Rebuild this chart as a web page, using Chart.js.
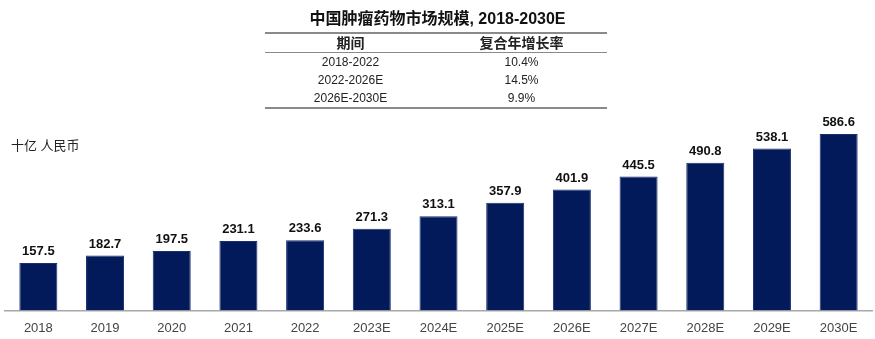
<!DOCTYPE html>
<html>
<head>
<meta charset="utf-8">
<script src="https://cdn.jsdelivr.net/npm/chart.js@4"></script>
<style>
  html, body { margin: 0; background: #fff; overflow: hidden; font-family: "Liberation Sans", "Noto Sans CJK SC", sans-serif; }
  #wrap { position: relative; width: 875px; height: 339px; overflow: hidden; }
  #title { position: absolute; left: 0; width: 875px; top: 5px; text-align: center; font-weight: bold; font-size: 16px; color: #111; }
  #cagr { position: absolute; left: 265px; top: 32px; width: 342px; border-collapse: collapse; font-size: 12px; color: #222; }
  #cagr th, #cagr td { width: 50%; text-align: center; padding: 0; line-height: 14px; }
  #cagr th { font-size: 14px; }
  #cagr thead tr { border-top: 2px solid #8a8a8a; border-bottom: 1px solid #8a8a8a; height: 19px; }
  #cagr tbody tr { height: 18.6px; }
  #cagr tbody tr:last-child { border-bottom: 2px solid #8a8a8a; }
  #unit { position: absolute; left: 11px; top: 135px; font-size: 13px; color: #222; }
  canvas { position: absolute; left: 0; top: 0; }
</style>
</head>
<body>
<div id="wrap">
  <canvas id="marketChart" width="875" height="339"></canvas>
  <div id="title">中国肿瘤药物市场规模, 2018-2030E</div>
  <table id="cagr">
    <thead><tr><th id="h1"></th><th id="h2"></th></tr></thead>
    <tbody id="cagrBody"></tbody>
  </table>
  <div id="unit">十亿 人民币</div>
</div>
<script>
// Chart data
const years = ['2018', '2019', '2020', '2021', '2022', '2023E', '2024E', '2025E', '2026E', '2027E', '2028E', '2029E', '2030E'];
const marketSize = [157.5, 182.7, 197.5, 231.1, 233.6, 271.3, 313.1, 357.9, 401.9, 445.5, 490.8, 538.1, 586.6];

// CAGR table
const tableHeaders = ['期间', '复合年增长率'];
const periods = ['2018-2022', '2022-2026E', '2026E-2030E'];
const cagrs = ['10.4%', '14.5%', '9.9%'];

document.getElementById('h1').textContent = tableHeaders[0];
document.getElementById('h2').textContent = tableHeaders[1];
const body = document.getElementById('cagrBody');
periods.forEach((p, i) => {
  const tr = document.createElement('tr');
  tr.innerHTML = `<td>${p}</td><td>${cagrs[i]}</td>`;
  body.appendChild(tr);
});

// Draw value labels above bars
const barLabels = {
  id: 'barLabels',
  afterDatasetsDraw(chart) {
    const ctx = chart.ctx;
    const meta = chart.getDatasetMeta(0);
    ctx.save();
    ctx.font = 'bold 13px "Liberation Sans", Arial, sans-serif';
    ctx.fillStyle = '#111';
    ctx.textAlign = 'center';
    ctx.textBaseline = 'bottom';
    meta.data.forEach((bar, i) => {
      ctx.fillText(marketSize[i].toFixed(1), bar.x, bar.y - 5);
    });
    ctx.restore();
  }
};

new Chart(document.getElementById('marketChart'), {
  type: 'bar',
  data: {
    labels: years,
    datasets: [{
      data: marketSize,
      backgroundColor: '#031a5a',
      borderColor: '#1a2f6e',
      borderWidth: 1,
      barPercentage: 0.57,
      categoryPercentage: 1
    }]
  },
  options: {
    responsive: false,
    animation: false,
    layout: { padding: { top: 130, left: 5, right: 3, bottom: 1 } },
    plugins: {
      legend: { display: false },
      tooltip: { enabled: false }
    },
    scales: {
      x: {
        grid: { display: false },
        border: { color: '#a8a8a8', width: 1.5 },
        ticks: {
          color: '#444',
          padding: 2,
          font: { family: '"Liberation Sans", Arial, sans-serif', size: 13 }
        }
      },
      y: {
        display: false,
        min: 0,
        max: 600
      }
    }
  },
  plugins: [barLabels]
});
</script>
</body>
</html>
